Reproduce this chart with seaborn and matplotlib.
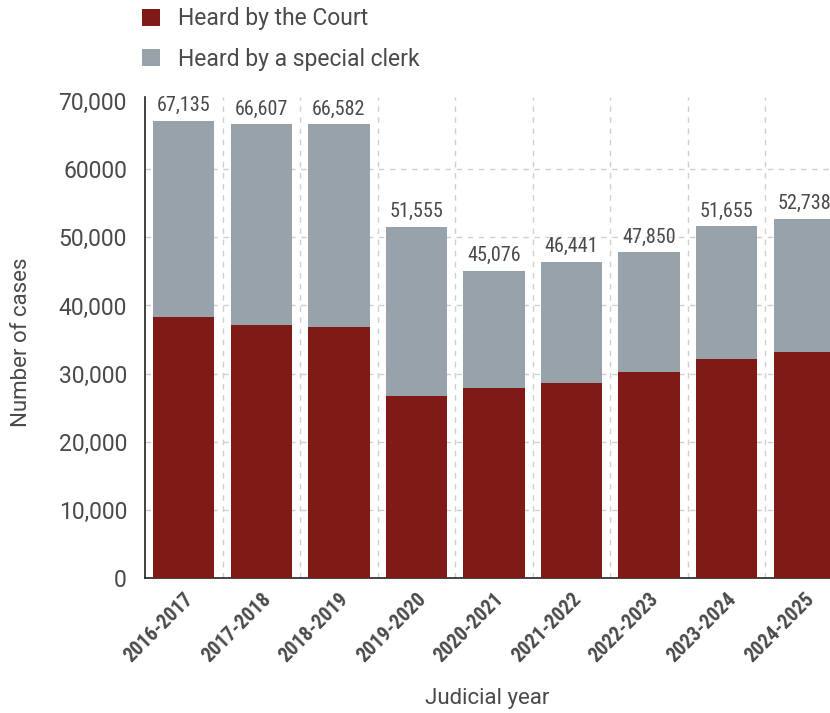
import matplotlib
matplotlib.use("Agg")
import matplotlib.pyplot as plt
from matplotlib.patches import Patch
from matplotlib import font_manager
from matplotlib.font_manager import FontProperties
import seaborn as sns
import pandas as pd

years = ["2016-2017", "2017-2018", "2018-2019", "2019-2020", "2020-2021",
         "2021-2022", "2022-2023", "2023-2024", "2024-2025"]
totals = [67135, 66607, 66582, 51555, 45076, 46441, 47850, 51655, 52738]
court = [38300, 37100, 36800, 26700, 27900, 28600, 30200, 32100, 33200]
ytick_vals = [0, 10000, 20000, 30000, 40000, 50000, 60000, 70000]
ytick_labels = ["0", "10,000", "20,000", "30,000", "40,000", "50,000", "60000", "70,000"]

RED = "#801a16"
GREY = "#98a2ab"
TXT = "#4a4a4a"

# pick a condensed font file if available
def find_font(keys, bold=False):
    files = [f for f in font_manager.fontManager.ttflist]
    for key in keys:
        for f in files:
            fn = f.fname.replace("-", "").replace("_", "").replace(" ", "").lower()
            if key in fn:
                isbold = ("bold" in fn) and ("semibold" not in fn) and ("extrabold" not in fn)
                if bold == isbold and "italic" not in fn and "oblique" not in fn:
                    return f.fname
    return None

cond_keys = ["robotocondensedregular", "robotocondensed", "liberationsansnarrowregular",
             "liberationsansnarrow", "dejavusanscondensed.", "opensanscondensed"]
cond_keys_b = ["robotocondensedbold", "robotocondensed", "liberationsansnarrowbold",
               "liberationsansnarrow", "dejavusanscondensedbold", "opensanscondensedbold"]
cond_reg = find_font(cond_keys, bold=False)
cond_bold = find_font(cond_keys_b, bold=True)

names = {f.name for f in font_manager.fontManager.ttflist}
base = "Roboto" if "Roboto" in names else "DejaVu Sans"

sns.set_theme(style="white")
plt.rcParams["font.family"] = [base, "DejaVu Sans"]

def fp(size, bold=False):
    path = cond_bold if bold else cond_reg
    if path:
        return FontProperties(fname=path, size=size)
    return FontProperties(family=base, size=size * 0.85, weight="bold" if bold else "normal")

df = pd.DataFrame({"year": years, "total": totals, "court": court})

fig = plt.figure(figsize=(8.3, 7.13), dpi=100)
ax = fig.add_axes([145 / 830, (713 - 578) / 713, 698 / 830, (578 - 97) / 713])

sns.barplot(data=df, x="year", y="total", color=GREY, width=0.79, saturation=1,
            linewidth=0, edgecolor="none", ax=ax, zorder=3)
sns.barplot(data=df, x="year", y="court", color=RED, width=0.79, saturation=1,
            linewidth=0, edgecolor="none", ax=ax, zorder=3)

ax.set_xlim(-0.5, 8.5)
ax.set_ylim(0, 70600)
ax.set_yticks(ytick_vals)
ax.set_yticklabels(ytick_labels, fontsize=16.5, color=TXT)

ax.set_xticks(range(len(years)))
ax.set_xticks([i + 0.5 for i in range(len(years) - 1)], minor=True)
ax.grid(False)
ax.yaxis.grid(True, which="major", linestyle=(0, (4, 4)), color="#d0d0d0", linewidth=1, zorder=0)
ax.xaxis.grid(True, which="minor", linestyle=(0, (4, 4)), color="#d0d0d0", linewidth=1, zorder=0)
ax.get_ygridlines()[-1].set_visible(False)
ax.get_ygridlines()[0].set_visible(False)
ax.set_axisbelow(True)
ax.tick_params(axis="both", which="both", length=0)
ax.tick_params(axis="y", pad=13)

ax.set_xticklabels(years, rotation=45, ha="right", rotation_mode="anchor",
                   fontproperties=fp(14.5, bold=True), color=TXT)
ax.tick_params(axis="x", pad=8)

for sp in ["top", "right"]:
    ax.spines[sp].set_visible(False)
for sp in ["left", "bottom"]:
    ax.spines[sp].set_color("#222222")
    ax.spines[sp].set_linewidth(1.2)

for i, t in enumerate(totals):
    ax.annotate(f"{t:,}", (i, t), xytext=(0, 4), textcoords="offset points",
                ha="center", va="bottom", fontproperties=fp(14.5), color=TXT, zorder=5)

ax.set_ylabel("Number of cases", fontsize=16, color=TXT)
ax.set_xlabel("Judicial year", fontsize=16, color=TXT)
ax.yaxis.set_label_coords((32 - 145) / 698, 0.49)
ax.xaxis.set_label_coords((487 - 145) / 698, -(688 - 578) / 481)

handles = [Patch(facecolor=RED, edgecolor="none", label="Heard by the Court"),
           Patch(facecolor=GREY, edgecolor="none", label="Heard by a special clerk")]
fig.legend(handles=handles, loc="upper left", bbox_to_anchor=(126 / 830, 1.012),
           frameon=False, fontsize=16.5, handlelength=0.8, handleheight=0.8,
           handletextpad=0.75, labelspacing=0.75, labelcolor=TXT, borderaxespad=0.3)

fig.savefig("out.png", dpi=100)
